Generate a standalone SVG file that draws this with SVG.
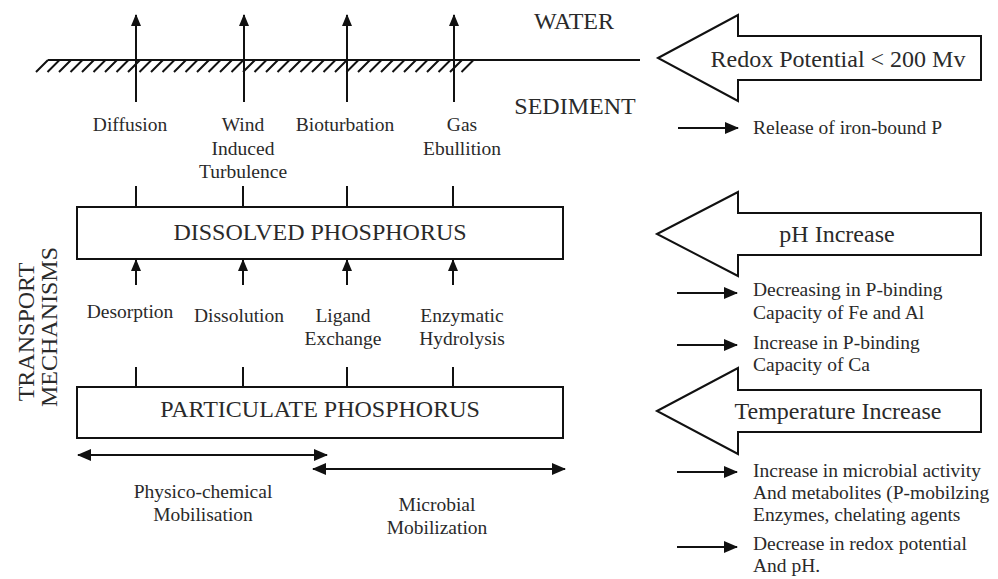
<svg xmlns="http://www.w3.org/2000/svg" width="998" height="579" viewBox="0 0 998 579">
  <style>
    text { font-family: "Liberation Serif", "Times New Roman", serif; fill: #2a2a2a; }
    .sm { font-size: 19.5px; }
    .lg { font-size: 24px; }
    .mid { text-anchor: middle; }
    .ln { stroke: #111; stroke-width: 2; fill: none; }
    .box { stroke: #111; stroke-width: 2; fill: #fff; }
    .blk { stroke: #111; stroke-width: 2; fill: #fff; stroke-linejoin: miter; }
  </style>
  <defs>
    <marker id="ah" viewBox="0 0 12 10" refX="11" refY="5" markerWidth="12" markerHeight="10" markerUnits="userSpaceOnUse" orient="auto-start-reverse">
      <path d="M0,0 L12,5 L0,10 z" fill="#111"/>
    </marker>
    <marker id="ahs" viewBox="0 0 14 12" refX="13" refY="6" markerWidth="14" markerHeight="12" markerUnits="userSpaceOnUse" orient="auto-start-reverse">
      <path d="M0,0 L14,6 L0,12 z" fill="#111"/>
    </marker>
  </defs>
  <rect width="998" height="579" fill="#fff"/>

  <g id="water-sediment">
    <line class="ln" x1="48" y1="60" x2="640" y2="60"/>
    <path class="ln" stroke-width="1.6" d="M36 72 l12 -12 M47.5 72 l12 -12 M59 72 l12 -12 M70.5 72 l12 -12 M82 72 l12 -12 M93.5 72 l12 -12 M105 72 l12 -12 M116.5 72 l12 -12 M128 72 l12 -12 M139.5 72 l12 -12 M151 72 l12 -12 M162.5 72 l12 -12 M174 72 l12 -12 M185.5 72 l12 -12 M197 72 l12 -12 M208.5 72 l12 -12 M220 72 l12 -12 M231.5 72 l12 -12 M243 72 l12 -12 M254.5 72 l12 -12 M266 72 l12 -12 M277.5 72 l12 -12 M289 72 l12 -12 M300.5 72 l12 -12 M312 72 l12 -12 M323.5 72 l12 -12 M335 72 l12 -12 M346.5 72 l12 -12 M358 72 l12 -12 M369.5 72 l12 -12 M381 72 l12 -12 M392.5 72 l12 -12 M404 72 l12 -12 M415.5 72 l12 -12 M427 72 l12 -12 M438.5 72 l12 -12 M450 72 l12 -12 M461.5 72 l12 -12"/>
    <text class="lg mid" x="574" y="29">WATER</text>
    <text class="lg mid" x="575" y="114">SEDIMENT</text>
  </g>

  <g id="dissolved">
    <rect class="box" x="77" y="207" width="486" height="52"/>
    <text class="lg mid" x="320" y="240">DISSOLVED PHOSPHORUS</text>
  </g>

  <g id="particulate">
    <rect class="box" x="77" y="387" width="486" height="51"/>
    <text class="lg mid" x="320" y="417">PARTICULATE PHOSPHORUS</text>
  </g>

  <g id="transport-mechanisms">
    <text class="lg mid" transform="translate(34,332) rotate(-90)">TRANSPORT</text>
    <text class="lg mid" transform="translate(57,327) rotate(-90)">MECHANISMS</text>
  </g>

  <g id="label-diffusion"><text class="sm mid" x="130" y="131">Diffusion</text></g>
  <g id="label-wind"><text class="sm mid" x="243" y="131">Wind</text><text class="sm mid" x="243" y="155">Induced</text><text class="sm mid" x="243" y="178">Turbulence</text></g>
  <g id="label-bioturbation"><text class="sm mid" x="345" y="131">Bioturbation</text></g>
  <g id="label-gas"><text class="sm mid" x="462" y="131">Gas</text><text class="sm mid" x="462" y="155">Ebullition</text></g>

  <g id="label-desorption"><text class="sm mid" x="130" y="318">Desorption</text></g>
  <g id="label-dissolution"><text class="sm mid" x="239" y="322">Dissolution</text></g>
  <g id="label-ligand"><text class="sm mid" x="343" y="322">Ligand</text><text class="sm mid" x="343" y="345">Exchange</text></g>
  <g id="label-enzymatic"><text class="sm mid" x="462" y="322">Enzymatic</text><text class="sm mid" x="462" y="345">Hydrolysis</text></g>

  <g id="label-physico"><text class="sm mid" x="203" y="498">Physico-chemical</text><text class="sm mid" x="203" y="521">Mobilisation</text></g>
  <g id="label-microbial"><text class="sm mid" x="437" y="511">Microbial</text><text class="sm mid" x="437" y="534">Mobilization</text></g>

  <g id="redox">
    <polygon class="blk" points="658,58 738,15 738,36 981,36 981,80 738,80 738,101"/>
    <text class="lg mid" x="838" y="67">Redox Potential &lt; 200 Mv</text>
  </g>
  <g id="ph">
    <polygon class="blk" points="657,234 738,192 738,213 981,213 981,255 738,255 738,276"/>
    <text class="lg mid" x="837" y="242">pH Increase</text>
  </g>
  <g id="temperature">
    <polygon class="blk" points="657,411 738,368 738,390 981,390 981,432 738,432 738,454"/>
    <text class="lg mid" x="838" y="419">Temperature Increase</text>
  </g>

  <g id="effect-release"><text class="sm" x="753" y="134">Release of iron-bound P</text></g>
  <g id="effect-decreasing"><text class="sm" x="753" y="296">Decreasing in P-binding</text><text class="sm" x="753" y="319">Capacity of Fe and Al</text></g>
  <g id="effect-increase"><text class="sm" x="753" y="349">Increase in P-binding</text><text class="sm" x="753" y="371">Capacity of Ca</text></g>
  <g id="effect-microbial"><text class="sm" x="753" y="477">Increase in microbial activity</text><text class="sm" x="753" y="499">And metabolites (P-mobilzing</text><text class="sm" x="753" y="521">Enzymes, chelating agents</text></g>
  <g id="effect-redox"><text class="sm" x="753" y="550">Decrease in redox potential</text><text class="sm" x="753" y="572">And pH.</text></g>

  <g id="connectors">
    <line class="ln" x1="136" y1="102" x2="136" y2="15" marker-end="url(#ah)"/>
    <line class="ln" x1="244" y1="102" x2="244" y2="15" marker-end="url(#ah)"/>
    <line class="ln" x1="347" y1="102" x2="347" y2="15" marker-end="url(#ah)"/>
    <line class="ln" x1="454" y1="102" x2="454" y2="15" marker-end="url(#ah)"/>

    <line class="ln" x1="136" y1="186" x2="136" y2="207"/>
    <line class="ln" x1="243" y1="186" x2="243" y2="207"/>
    <line class="ln" x1="347" y1="186" x2="347" y2="207"/>
    <line class="ln" x1="453" y1="186" x2="453" y2="207"/>

    <line class="ln" x1="136" y1="285" x2="136" y2="260" marker-end="url(#ah)"/>
    <line class="ln" x1="243" y1="285" x2="243" y2="260" marker-end="url(#ah)"/>
    <line class="ln" x1="347" y1="285" x2="347" y2="260" marker-end="url(#ah)"/>
    <line class="ln" x1="453" y1="285" x2="453" y2="260" marker-end="url(#ah)"/>

    <line class="ln" x1="136" y1="367" x2="136" y2="387"/>
    <line class="ln" x1="243" y1="367" x2="243" y2="387"/>
    <line class="ln" x1="347" y1="367" x2="347" y2="387"/>
    <line class="ln" x1="453" y1="367" x2="453" y2="387"/>

    <line class="ln" x1="78" y1="455" x2="327" y2="455" marker-start="url(#ahs)" marker-end="url(#ahs)"/>
    <line class="ln" x1="313" y1="469" x2="565" y2="469" marker-start="url(#ahs)" marker-end="url(#ahs)"/>

    <line class="ln" x1="678" y1="128" x2="738" y2="128" marker-end="url(#ahs)"/>
    <line class="ln" x1="677" y1="293" x2="737" y2="293" marker-end="url(#ahs)"/>
    <line class="ln" x1="677" y1="345" x2="737" y2="345" marker-end="url(#ahs)"/>
    <line class="ln" x1="677" y1="472" x2="737" y2="472" marker-end="url(#ahs)"/>
    <line class="ln" x1="677" y1="547" x2="737" y2="547" marker-end="url(#ahs)"/>
  </g>
</svg>
